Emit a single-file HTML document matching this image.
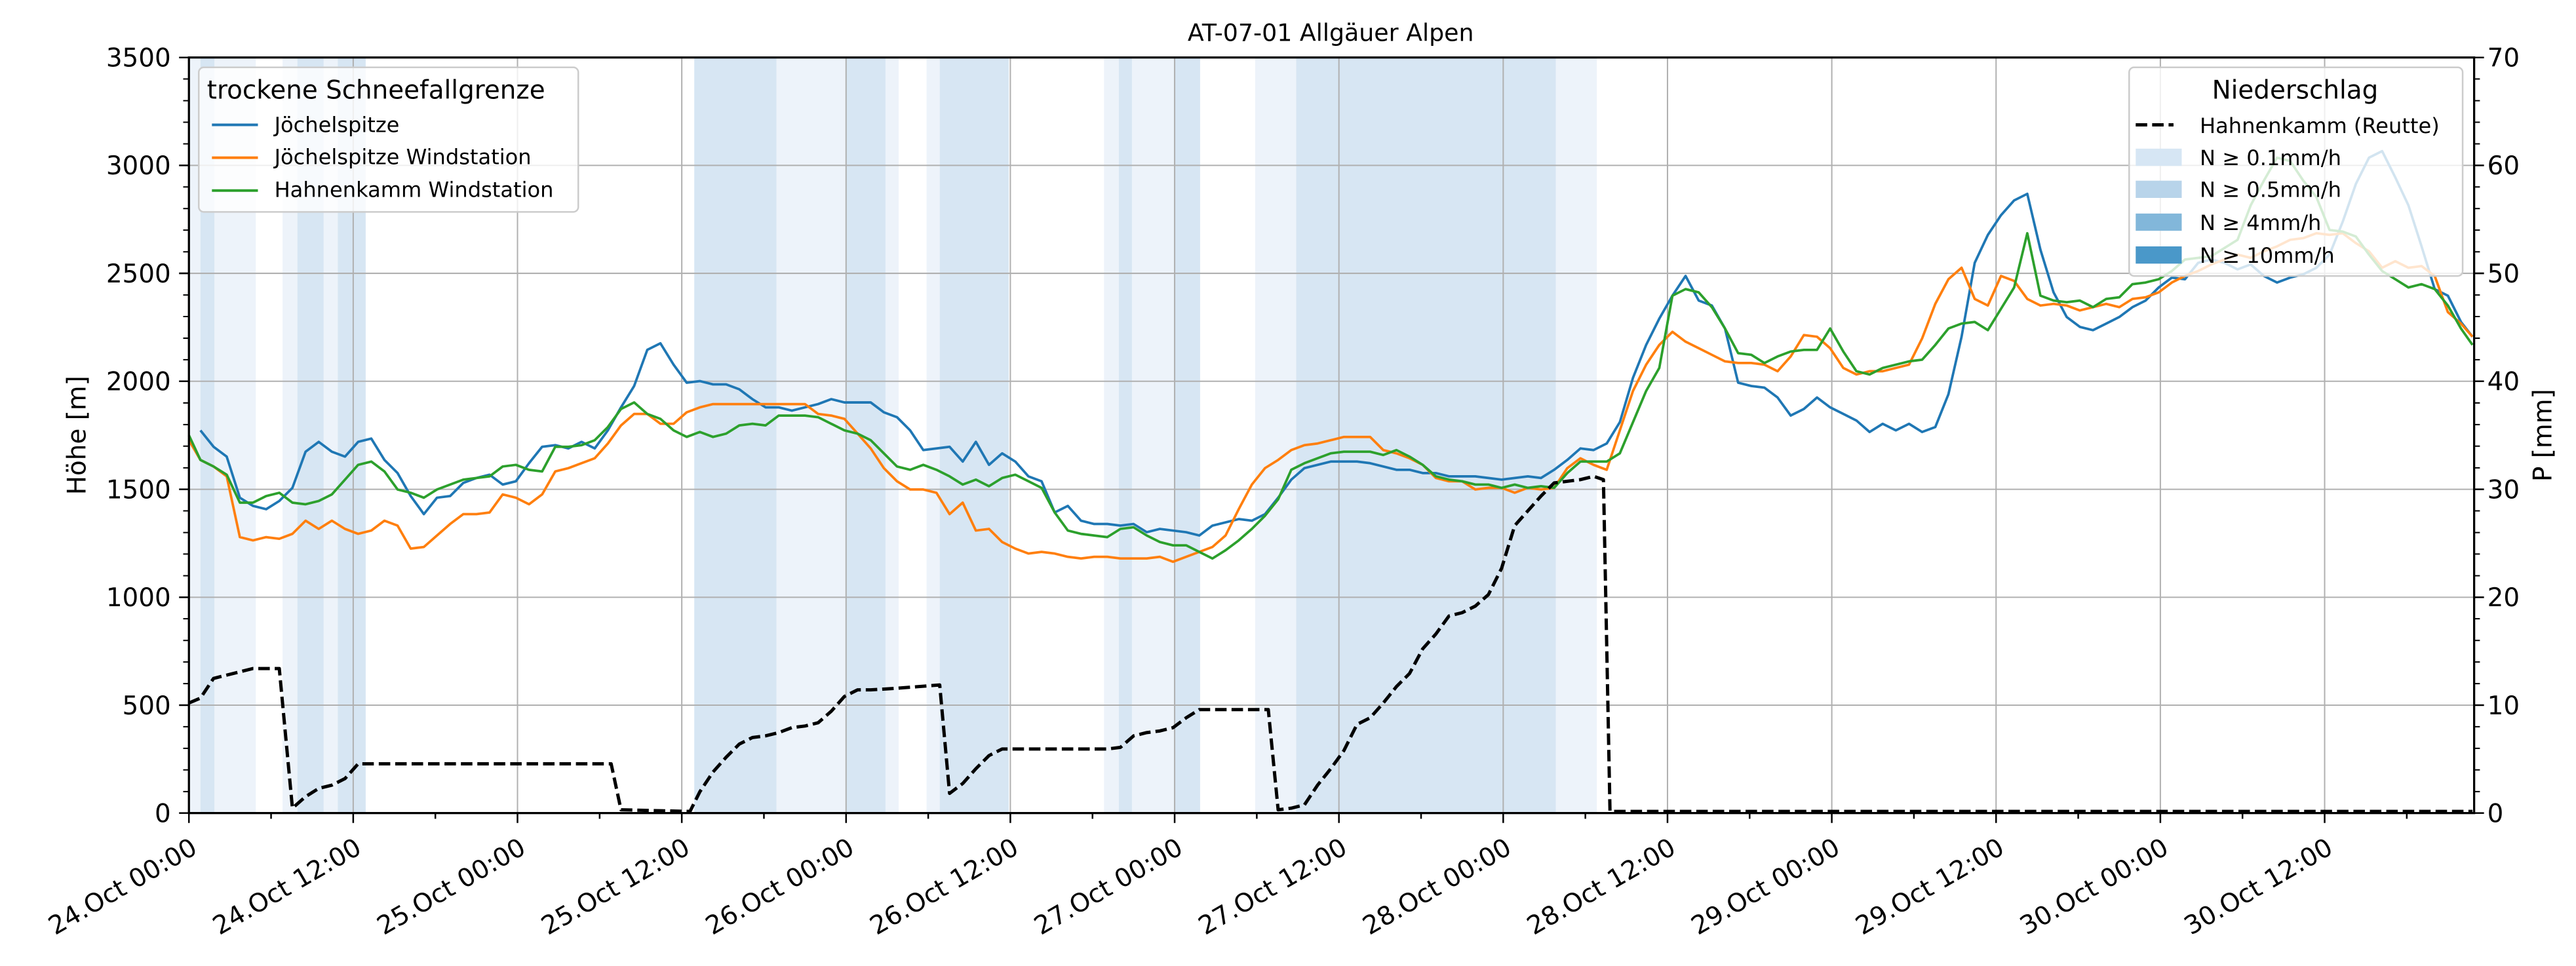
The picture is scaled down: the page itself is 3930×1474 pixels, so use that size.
<!DOCTYPE html>
<html><head><meta charset="utf-8"><style>
html,body{margin:0;padding:0;background:#fff;}
svg{display:block;}
text{font-family:"DejaVu Sans","Liberation Sans",sans-serif;fill:#000;}
</style></head><body>
<svg width="3930" height="1474" viewBox="0 0 1568 588.1" preserveAspectRatio="none" xmlns="http://www.w3.org/2000/svg">
<rect x="0" y="0" width="1568" height="588.1" fill="#fff"/>
<g fill="#edf3fa">
<rect x="115" y="35" width="7" height="460"/>
<rect x="130.5" y="35" width="25.2" height="460"/>
<rect x="172" y="35" width="9" height="460"/>
<rect x="197" y="35" width="8.6" height="460"/>
<rect x="472.6" y="35" width="42" height="460"/>
<rect x="539" y="35" width="8" height="460"/>
<rect x="564" y="35" width="8" height="460"/>
<rect x="672" y="35" width="9" height="460"/>
<rect x="689" y="35" width="25.5" height="460"/>
<rect x="764" y="35" width="25" height="460"/>
<rect x="947" y="35" width="25" height="460"/>
</g>
<g fill="#d7e6f3">
<rect x="122" y="35" width="8.5" height="460"/>
<rect x="181" y="35" width="16" height="460"/>
<rect x="205.6" y="35" width="17" height="460"/>
<rect x="422.6" y="35" width="50" height="460"/>
<rect x="514.6" y="35" width="24.4" height="460"/>
<rect x="572" y="35" width="42" height="460"/>
<rect x="681" y="35" width="8" height="460"/>
<rect x="714.5" y="35" width="16" height="460"/>
<rect x="789" y="35" width="158" height="460"/>
</g>
<g stroke="#b0b0b0" stroke-width="0.8">
<line x1="115" y1="35" x2="115" y2="495"/><line x1="215" y1="35" x2="215" y2="495"/><line x1="315" y1="35" x2="315" y2="495"/><line x1="415" y1="35" x2="415" y2="495"/><line x1="515" y1="35" x2="515" y2="495"/><line x1="615" y1="35" x2="615" y2="495"/><line x1="715" y1="35" x2="715" y2="495"/><line x1="815" y1="35" x2="815" y2="495"/><line x1="915" y1="35" x2="915" y2="495"/><line x1="1015" y1="35" x2="1015" y2="495"/><line x1="1115" y1="35" x2="1115" y2="495"/><line x1="1215" y1="35" x2="1215" y2="495"/><line x1="1315" y1="35" x2="1315" y2="495"/><line x1="1415" y1="35" x2="1415" y2="495"/>
<line x1="115" y1="429.3" x2="1506" y2="429.3"/><line x1="115" y1="363.6" x2="1506" y2="363.6"/><line x1="115" y1="297.9" x2="1506" y2="297.9"/><line x1="115" y1="232.1" x2="1506" y2="232.1"/><line x1="115" y1="166.4" x2="1506" y2="166.4"/><line x1="115" y1="100.7" x2="1506" y2="100.7"/>
</g>
<g fill="none" stroke-width="1.5" stroke-linejoin="round">
<polyline stroke="#1f77b4" points="122,262 130,272 138,278 146,303 154,308 162,310 170,305 178,297 186,275 194,269 202,275 210,278 218,269 226,267 234,280 242,288 250,302 258,313 266,303 274,302 282,294 290,291 298,289 306,295 314,293 322,282 330,272 338,271 346,273 354,269 362,273 370,262 378,248 386,235 394,213 402,209 410,222 418,233 426,232 434,234 442,234 450,237 458,243 466,248 474,248 482,250 490,248 498,246 506,243 514,245 522,245 530,245 538,251 546,254 554,262 562,274 570,273 578,272 586,281 594,269 602,283 610,276 618,281 626,290 634,293 642,312 650,308 658,317 666,319 674,319 682,320 690,319 698,324 706,322 714,323 722,324 730,326 738,320 746,318 754,316 762,317 770,313 778,303 786,292 794,285 802,283 810,281 818,281 826,281 834,282 842,284 850,286 858,286 866,288 874,288 882,290 890,290 898,290 906,291 914,292 922,291 930,290 938,291 946,286 954,280 962,273 970,274 978,270 986,257 994,230 1002,210 1010,194 1018,180 1026,168 1034,183 1042,186 1050,200 1058,233 1066,235 1074,236 1082,242 1090,253 1098,249 1106,242 1114,248 1122,252 1130,256 1138,263 1146,258 1154,262 1162,258 1170,263 1178,260 1186,240 1194,205 1202,160 1210,143 1218,131 1226,122 1234,118 1242,152 1250,178 1258,193 1266,199 1274,201 1282,197 1290,193 1298,187 1306,183 1314,175 1322,169 1330,170 1338,160 1346,158 1354,160 1362,164 1370,161 1378,168 1386,172 1394,169 1402,167 1410,163 1418,155 1426,135 1434,112 1442,96 1450,92 1458,108 1466,125 1474,150 1482,176 1490,180 1498,196 1505,205"/>
<polyline stroke="#ff7f0e" points="115,268 122,280 130,284 138,290 146,327 154,329 162,327 170,328 178,325 186,317 194,322 202,317 210,322 218,325 226,323 234,317 242,320 250,334 258,333 266,326 274,319 282,313 290,313 298,312 306,301 314,303 322,307 330,301 338,287 346,285 354,282 362,279 370,270 378,259 386,252 394,252 402,258 410,258 418,251 426,248 434,246 442,246 450,246 458,246 466,246 474,246 482,246 490,246 498,252 506,253 514,255 522,264 530,273 538,285 546,293 554,298 562,298 570,300 578,313 586,306 594,323 602,322 610,330 618,334 626,337 634,336 642,337 650,339 658,340 666,339 674,339 682,340 690,340 698,340 706,339 714,342 722,339 730,336 738,333 746,326 754,310 762,295 770,285 778,280 786,274 794,271 802,270 810,268 818,266 826,266 834,266 842,274 850,276 858,279 866,283 874,291 882,293 890,293 898,298 906,297 914,297 922,300 930,297 938,298 946,297 954,285 962,279 970,283 978,286 986,262 994,238 1002,222 1010,210 1018,202 1026,208 1034,212 1042,216 1050,220 1058,221 1066,221 1074,222 1082,226 1090,217 1098,204 1106,205 1114,212 1122,224 1130,228 1138,226 1146,226 1154,224 1162,222 1170,206 1178,185 1186,170 1194,163 1202,182 1210,186 1218,168 1226,171 1234,182 1242,186 1250,185 1258,186 1266,189 1274,187 1282,185 1290,187 1298,182 1306,181 1314,178 1322,172 1330,168 1338,165 1346,161 1354,158 1362,155 1370,157 1378,153 1386,150 1394,146 1402,145 1410,142 1418,143 1426,142 1434,148 1442,153 1450,163 1458,159 1466,163 1474,162 1482,168 1490,190 1498,197 1505,205"/>
<polyline stroke="#2ca02c" points="115,265 122,280 130,284 138,289 146,306 154,306 162,302 170,300 178,306 186,307 194,305 202,301 210,292 218,283 226,281 234,287 242,298 250,300 258,303 266,298 274,295 282,292 290,291 298,290 306,284 314,283 322,286 330,287 338,272 346,272 354,271 362,268 370,260 378,249 386,245 394,252 402,255 410,262 418,266 426,263 434,266 442,264 450,259 458,258 466,259 474,253 482,253 490,253 498,254 506,258 514,262 522,264 530,268 538,276 546,284 554,286 562,283 570,286 578,290 586,295 594,292 602,296 610,291 618,289 626,293 634,297 642,312 650,323 658,325 666,326 674,327 682,322 690,321 698,326 706,330 714,332 722,332 730,336 738,340 746,335 754,329 762,322 770,314 778,304 786,286 794,282 802,279 810,276 818,275 826,275 834,275 842,277 850,274 858,278 866,283 874,290 882,292 890,293 898,295 906,295 914,297 922,295 930,297 938,296 946,297 954,288 962,281 970,281 978,281 986,276 994,257 1002,238 1010,224 1018,180 1026,176 1034,178 1042,187 1050,200 1058,215 1066,216 1074,221 1082,217 1090,214 1098,213 1106,213 1114,200 1122,214 1130,226 1138,228 1146,224 1154,222 1162,220 1170,219 1178,210 1186,200 1194,197 1202,196 1210,201 1218,188 1226,175 1234,142 1242,180 1250,183 1258,184 1266,183 1274,187 1282,182 1290,181 1298,173 1306,172 1314,170 1322,165 1330,158 1338,157 1346,156 1354,151 1362,146 1370,125 1378,110 1386,96 1394,98 1402,110 1410,120 1418,140 1426,141 1434,144 1442,155 1450,165 1458,170 1466,175 1474,173 1482,176 1490,186 1498,200 1505,210"/>
<polyline stroke="#000" stroke-width="2" stroke-dasharray="7,3" points="115,428 122,425 130,413 138,411 146,409 154,407 170,407 178,492 186,485 194,480 202,478 210,474 218,465 372,465 378,493 420,494 426,482 434,470 442,461 450,453 458,449 466,448 474,446 482,443 490,442 498,440 506,433 514,424 522,420 530,420 546,419 572,417 578,483 586,477 594,468 602,460 610,456 674,456 682,455 690,448 698,446 706,445 714,443 722,437 730,432 772,432 778,493 786,492 794,490 802,478 810,468 818,457 826,441 834,437 842,428 850,418 858,410 866,395 874,386 882,375 890,373 898,369 906,362 914,346 922,320 930,311 938,302 946,294 954,293 962,292 970,290 976,292 980,494 1505,494"/>
</g>
<rect x="115" y="35" width="1391" height="460" fill="none" stroke="#000" stroke-width="1.3"/>
<g stroke="#000" stroke-width="1">
<path d="M115,495v6M215,495v6M315,495v6M415,495v6M515,495v6M615,495v6M715,495v6M815,495v6M915,495v6M1015,495v6M1115,495v6M1215,495v6M1315,495v6M1415,495v6"/>
<path d="M165,495v3.5M265,495v3.5M365,495v3.5M465,495v3.5M565,495v3.5M665,495v3.5M765,495v3.5M865,495v3.5M965,495v3.5M1065,495v3.5M1165,495v3.5M1265,495v3.5M1365,495v3.5M1465,495v3.5"/>
<path d="M109,495h6M109,429.3h6M109,363.6h6M109,297.9h6M109,232.1h6M109,166.4h6M109,100.7h6M109,35h6"/>
<path d="M1506,495h6M1506,429.3h6M1506,363.6h6M1506,297.9h6M1506,232.1h6M1506,166.4h6M1506,100.7h6M1506,35h6"/>
</g>
<g stroke="#000" stroke-width="0.8">
<path d="M111.5,481.9h3.5M111.5,468.7h3.5M111.5,455.6h3.5M111.5,442.4h3.5M111.5,416.2h3.5M111.5,403h3.5M111.5,389.9h3.5M111.5,376.7h3.5M111.5,350.5h3.5M111.5,337.3h3.5M111.5,324.2h3.5M111.5,311h3.5M111.5,284.8h3.5M111.5,271.6h3.5M111.5,258.5h3.5M111.5,245.3h3.5M111.5,219h3.5M111.5,205.9h3.5M111.5,192.7h3.5M111.5,179.6h3.5M111.5,153.3h3.5M111.5,140.1h3.5M111.5,127h3.5M111.5,113.8h3.5M111.5,87.6h3.5M111.5,74.4h3.5M111.5,61.3h3.5M111.5,48.1h3.5"/>
<path d="M1506,481.9h3.5M1506,468.7h3.5M1506,455.6h3.5M1506,442.4h3.5M1506,416.2h3.5M1506,403h3.5M1506,389.9h3.5M1506,376.7h3.5M1506,350.5h3.5M1506,337.3h3.5M1506,324.2h3.5M1506,311h3.5M1506,284.8h3.5M1506,271.6h3.5M1506,258.5h3.5M1506,245.3h3.5M1506,219h3.5M1506,205.9h3.5M1506,192.7h3.5M1506,179.6h3.5M1506,153.3h3.5M1506,140.1h3.5M1506,127h3.5M1506,113.8h3.5M1506,87.6h3.5M1506,74.4h3.5M1506,61.3h3.5M1506,48.1h3.5"/>
</g>
<g font-size="15.5" text-anchor="end">
<text x="104" y="500.5">0</text><text x="104" y="434.8">500</text><text x="104" y="369.1">1000</text><text x="104" y="303.4">1500</text><text x="104" y="237.6">2000</text><text x="104" y="171.9">2500</text><text x="104" y="106.2">3000</text><text x="104" y="40.5">3500</text>
</g>
<g font-size="15.5">
<text x="1514" y="500.5">0</text><text x="1514" y="434.8">10</text><text x="1514" y="369.1">20</text><text x="1514" y="303.4">30</text><text x="1514" y="237.6">40</text><text x="1514" y="171.9">50</text><text x="1514" y="106.2">60</text><text x="1514" y="40.5">70</text>
</g>
<text font-size="15.5" text-anchor="middle" transform="translate(52,265) rotate(-90)">Höhe [m]</text>
<text font-size="15.5" text-anchor="middle" transform="translate(1553,265) rotate(-90)">P [mm]</text>
<text font-size="14.5" text-anchor="middle" x="810" y="25">AT-07-01 Allgäuer Alpen</text>
<g font-size="15.5" text-anchor="end">
<text transform="translate(121,519) rotate(-30)">24.Oct 00:00</text>
<text transform="translate(221,519) rotate(-30)">24.Oct 12:00</text>
<text transform="translate(321,519) rotate(-30)">25.Oct 00:00</text>
<text transform="translate(421,519) rotate(-30)">25.Oct 12:00</text>
<text transform="translate(521,519) rotate(-30)">26.Oct 00:00</text>
<text transform="translate(621,519) rotate(-30)">26.Oct 12:00</text>
<text transform="translate(721,519) rotate(-30)">27.Oct 00:00</text>
<text transform="translate(821,519) rotate(-30)">27.Oct 12:00</text>
<text transform="translate(921,519) rotate(-30)">28.Oct 00:00</text>
<text transform="translate(1021,519) rotate(-30)">28.Oct 12:00</text>
<text transform="translate(1121,519) rotate(-30)">29.Oct 00:00</text>
<text transform="translate(1221,519) rotate(-30)">29.Oct 12:00</text>
<text transform="translate(1321,519) rotate(-30)">30.Oct 00:00</text>
<text transform="translate(1421,519) rotate(-30)">30.Oct 12:00</text>
</g>
<rect x="121" y="41" width="231" height="88" rx="3" fill="#fff" fill-opacity="0.8" stroke="#cccccc" stroke-width="1"/>
<text x="126" y="60" font-size="15.5">trockene Schneefallgrenze</text>
<g stroke-width="1.6"><line x1="129" y1="76" x2="157" y2="76" stroke="#1f77b4"/><line x1="129" y1="96" x2="157" y2="96" stroke="#ff7f0e"/><line x1="129" y1="116" x2="157" y2="116" stroke="#2ca02c"/></g>
<g font-size="12.8"><text x="167" y="80.5">Jöchelspitze</text><text x="167" y="100">Jöchelspitze Windstation</text><text x="167" y="120">Hahnenkamm Windstation</text></g>
<rect x="1296" y="41" width="203" height="127" rx="3" fill="#fff" fill-opacity="0.8" stroke="#cccccc" stroke-width="1"/>
<text x="1397" y="60" font-size="15.5" text-anchor="middle">Niederschlag</text>
<line x1="1300" y1="76" x2="1323" y2="76" stroke="#000" stroke-width="2" stroke-dasharray="7,3"/>
<rect x="1300" y="90.5" width="28" height="10.5" fill="#d6e6f4"/>
<rect x="1300" y="110" width="28" height="10.5" fill="#b8d4ea"/>
<rect x="1300" y="130" width="28" height="10.5" fill="#82b7da"/>
<rect x="1300" y="150" width="28" height="10.5" fill="#4a98c9"/>
<g font-size="12.8"><text x="1339" y="81">Hahnenkamm (Reutte)</text><text x="1339" y="100.5">N ≥ 0.1mm/h</text><text x="1339" y="120">N ≥ 0.5mm/h</text><text x="1339" y="140">N ≥ 4mm/h</text><text x="1339" y="160">N ≥ 10mm/h</text></g>
</svg>
</body></html>
